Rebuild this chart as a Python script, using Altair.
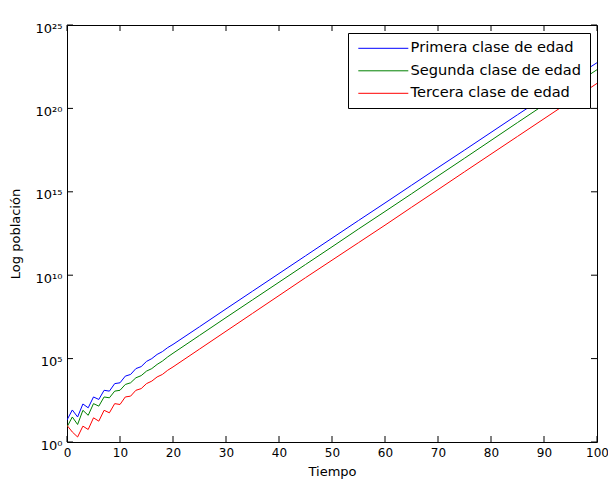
import altair as alt
import pandas as pd

# ---- data (log10 of population) ----
tiempo = list(range(0, 21)) + list(range(25, 101, 5))
primera_exp = [1.32, 1.92, 1.50, 2.28, 2.05, 2.70, 2.55, 3.10, 3.05, 3.50, 3.55,
               3.95, 4.05, 4.40, 4.52, 4.83, 5.00, 5.25, 5.42, 5.66, 5.85,
               6.91, 7.98, 9.04, 10.10, 11.16, 12.22, 13.28, 14.33, 15.39, 16.45,
               17.50, 18.56, 19.62, 20.67, 21.71, 22.74]
segunda_exp = [0.90, 1.50, 1.05, 1.90, 1.60, 2.30, 2.15, 2.70, 2.65, 3.05, 3.10,
               3.45, 3.55, 3.85, 3.98, 4.25, 4.40, 4.65, 4.85, 5.10, 5.32,
               6.39, 7.46, 8.52, 9.58, 10.64, 11.70, 12.77, 13.82, 14.88, 15.95,
               17.01, 18.08, 19.15, 20.21, 21.27, 22.32]
tercera_exp = [1.00, 0.60, 0.30, 0.95, 0.75, 1.45, 1.25, 1.90, 1.75, 2.30, 2.25,
               2.70, 2.75, 3.10, 3.20, 3.50, 3.65, 3.90, 4.05, 4.30, 4.50,
               5.57, 6.64, 7.71, 8.78, 9.85, 10.90, 11.95, 13.00, 14.07, 15.13,
               16.20, 17.26, 18.32, 19.38, 20.44, 21.50]
series_names = ["Primera clase de edad", "Segunda clase de edad", "Tercera clase de edad"]
series_colors = ["#0000ff", "#008000", "#ff0000"]
x_ticks = [0, 10, 20, 30, 40, 50, 60, 70, 80, 90, 100]
y_ticks = [1e0, 1e5, 1e10, 1e15, 1e20, 1e25]
y_tick_labels = ["10⁰", "10⁵", "10¹⁰", "10¹⁵", "10²⁰", "10²⁵"]

rows = []
for name, exps in zip(series_names, [primera_exp, segunda_exp, tercera_exp]):
    for t, e in zip(tiempo, exps):
        rows.append({"t": t, "pop": 10 ** e, "serie": name})
df = pd.DataFrame(rows)
xt = pd.DataFrame({"t": x_ticks})
yt = pd.DataFrame({"pop": y_ticks})

W, H = 530, 417
FONT = "DejaVu Sans"
label_expr = "[" + ",".join("'%s'" % s for s in y_tick_labels) + "][round(log(datum.value)/LN10/5)]"

xscale = alt.Scale(domain=[0, 100], nice=False, zero=False)
yscale = alt.Scale(type="log", domain=[1, 1e25], nice=False)

lines = alt.Chart(df).mark_line(strokeWidth=1, clip=True).encode(
    x=alt.X("t:Q", scale=xscale,
            axis=alt.Axis(title="Tiempo", values=x_ticks, labelAngle=0, labelPadding=5,
                          titlePadding=7, labelFlush=False)),
    y=alt.Y("pop:Q", scale=yscale,
            axis=alt.Axis(title="Log población", values=y_ticks, labelExpr=label_expr,
                          labelPadding=5, titlePadding=13, labelOffset=3,
                          labelFontSize=13)),
    color=alt.Color("serie:N",
                    scale=alt.Scale(domain=series_names, range=series_colors),
                    legend=alt.Legend(title=None, orient="none", legendX=281, legendY=8,
                                      symbolType="M-1,0H9", symbolSize=100,
                                      symbolStrokeWidth=1, labelOffset=40, labelLimit=400,
                                      labelFont=FONT, labelFontSize=14.6, rowPadding=7.5,
                                      padding=8, strokeColor="black", fillColor="white",
                                      labelColor="black")),
)

tick_len = 6
xb = alt.Chart(xt).mark_rule(color="black", strokeWidth=1).encode(
    x=alt.X("t:Q", scale=xscale), y=alt.value(H), y2=alt.value(H - tick_len))
xtop = alt.Chart(xt).mark_rule(color="black", strokeWidth=1).encode(
    x=alt.X("t:Q", scale=xscale), y=alt.value(0), y2=alt.value(tick_len))
yl = alt.Chart(yt).mark_rule(color="black", strokeWidth=1).encode(
    y=alt.Y("pop:Q", scale=yscale), x=alt.value(0), x2=alt.value(tick_len))
yr = alt.Chart(yt).mark_rule(color="black", strokeWidth=1).encode(
    y=alt.Y("pop:Q", scale=yscale), x=alt.value(W), x2=alt.value(W - tick_len))

chart = alt.layer(lines, xb, xtop, yl, yr).properties(
    width=W, height=H,
    autosize=alt.AutoSizeParams(type="none"),
    padding={"left": 67, "top": 25, "right": 11, "bottom": 40},
    background="white",
).configure_view(stroke="black", strokeWidth=1).configure_axis(
    domain=False, ticks=False, grid=False,
    labelFont=FONT, labelFontSize=12, labelColor="black",
    titleFont=FONT, titleFontSize=13, titleFontWeight="normal", titleColor="black",
)

chart.save("out.html", embed_options={"renderer": "svg", "actions": False})
